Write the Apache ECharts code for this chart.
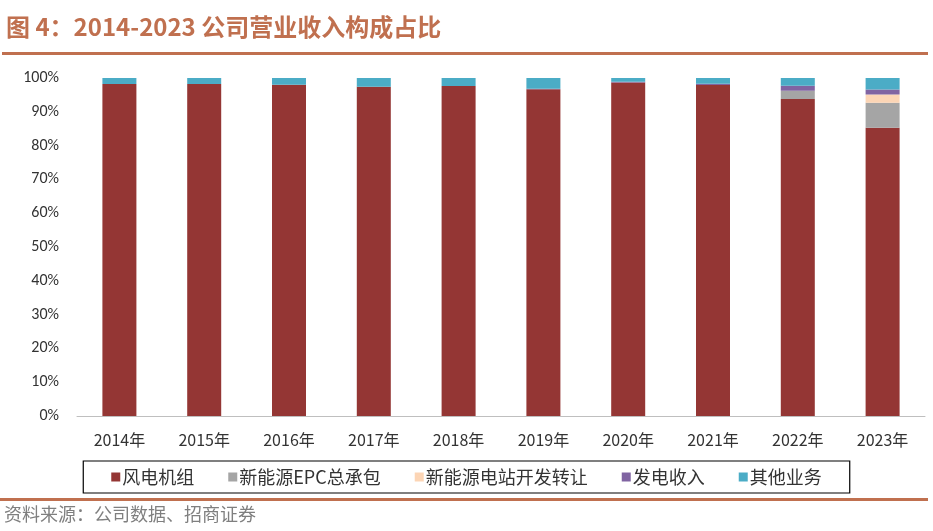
<!DOCTYPE html>
<html><head><meta charset="utf-8">
<script src="https://cdn.jsdelivr.net/npm/echarts@6/dist/echarts.min.js"></script>
<style>html,body{margin:0;padding:0;background:#fff}#c{width:933px;height:531px}</style>
</head><body><div id="c"></div>
<script>
const categories = ['2014年','2015年','2016年','2017年','2018年','2019年','2020年','2021年','2022年','2023年'];
const windTurbine = [98.2, 98.2, 98.0, 97.4, 97.6, 96.7, 98.7, 97.9, 93.8, 85.3];
const epc = [0, 0, 0, 0, 0, 0, 0, 0, 2.4, 7.4];
const stationTransfer = [0, 0, 0, 0, 0, 0, 0, 0, 0, 2.4];
const powerGen = [0, 0, 0, 0, 0, 0.1, 0.2, 0.4, 1.5, 1.5];
const others = [1.8, 1.8, 2.0, 2.6, 2.4, 3.2, 1.1, 1.7, 2.3, 3.4];
const yTicks = [0,10,20,30,40,50,60,70,80,90,100];
const seriesNames = ['风电机组','新能源EPC总承包','新能源电站开发转让','发电收入','其他业务'];
const colors = ['#943634','#A5A5A5','#FCD5B5','#8064A2','#4BACC6'];
const dataSets = [windTurbine, epc, stationTransfer, powerGen, others];

const chart = echarts.init(document.getElementById('c'));
const font = '"Microsoft YaHei","Noto Sans CJK SC",sans-serif';
chart.setOption({
  animation: false,
  textStyle: {fontFamily: font},
  grid: {left: 77, right: 8, top: 78, bottom: 115},
  xAxis: {
    type: 'category', data: categories,
    axisLine: {lineStyle: {color: '#BFBFBF', width: 1}},
    axisTick: {show: false},
    axisLabel: {color: '#333', fontSize: 16, margin: 16, fontFamily: font}
  },
  yAxis: {
    type: 'value', min: 0, max: 100, interval: 10,
    axisLine: {show: false}, axisTick: {show: false}, splitLine: {show: false},
    axisLabel: {color: '#333', fontSize: 16, margin: 18, formatter: v => v + '%', fontFamily: 'Calibri,"Liberation Sans",sans-serif'}
  },
  legend: {
    data: seriesNames, bottom: 38, left: 'center',
    itemWidth: 9, itemHeight: 9, itemGap: 34,
    icon: 'rect',
    borderColor: '#000', borderWidth: 1.2, padding: [7, 28, 7, 28],
    textStyle: {color: '#333', fontSize: 18, padding: [0, 0, 0, -3]}
  },
  series: seriesNames.map((n, i) => ({
    name: n, type: 'bar', stack: 'total', data: dataSets[i],
    barWidth: 34, itemStyle: {color: colors[i]}
  })),
  graphic: [
    {type: 'text', left: 6, top: 15, style: {text: '图 4：2014-2023 公司营业收入构成占比', fill: '#C0704F', font: 'bold 24px ' + font}},
    {type: 'rect', shape: {x: 2, y: 52, width: 926, height: 3}, style: {fill: '#C0704F'}},
    {type: 'rect', shape: {x: 0, y: 498, width: 928, height: 3}, style: {fill: '#C0704F'}},
    {type: 'text', left: 4, top: 505, style: {text: '资料来源：公司数据、招商证券', fill: '#7F7F7F', font: '18px ' + font}}
  ]
});
</script></body></html>
